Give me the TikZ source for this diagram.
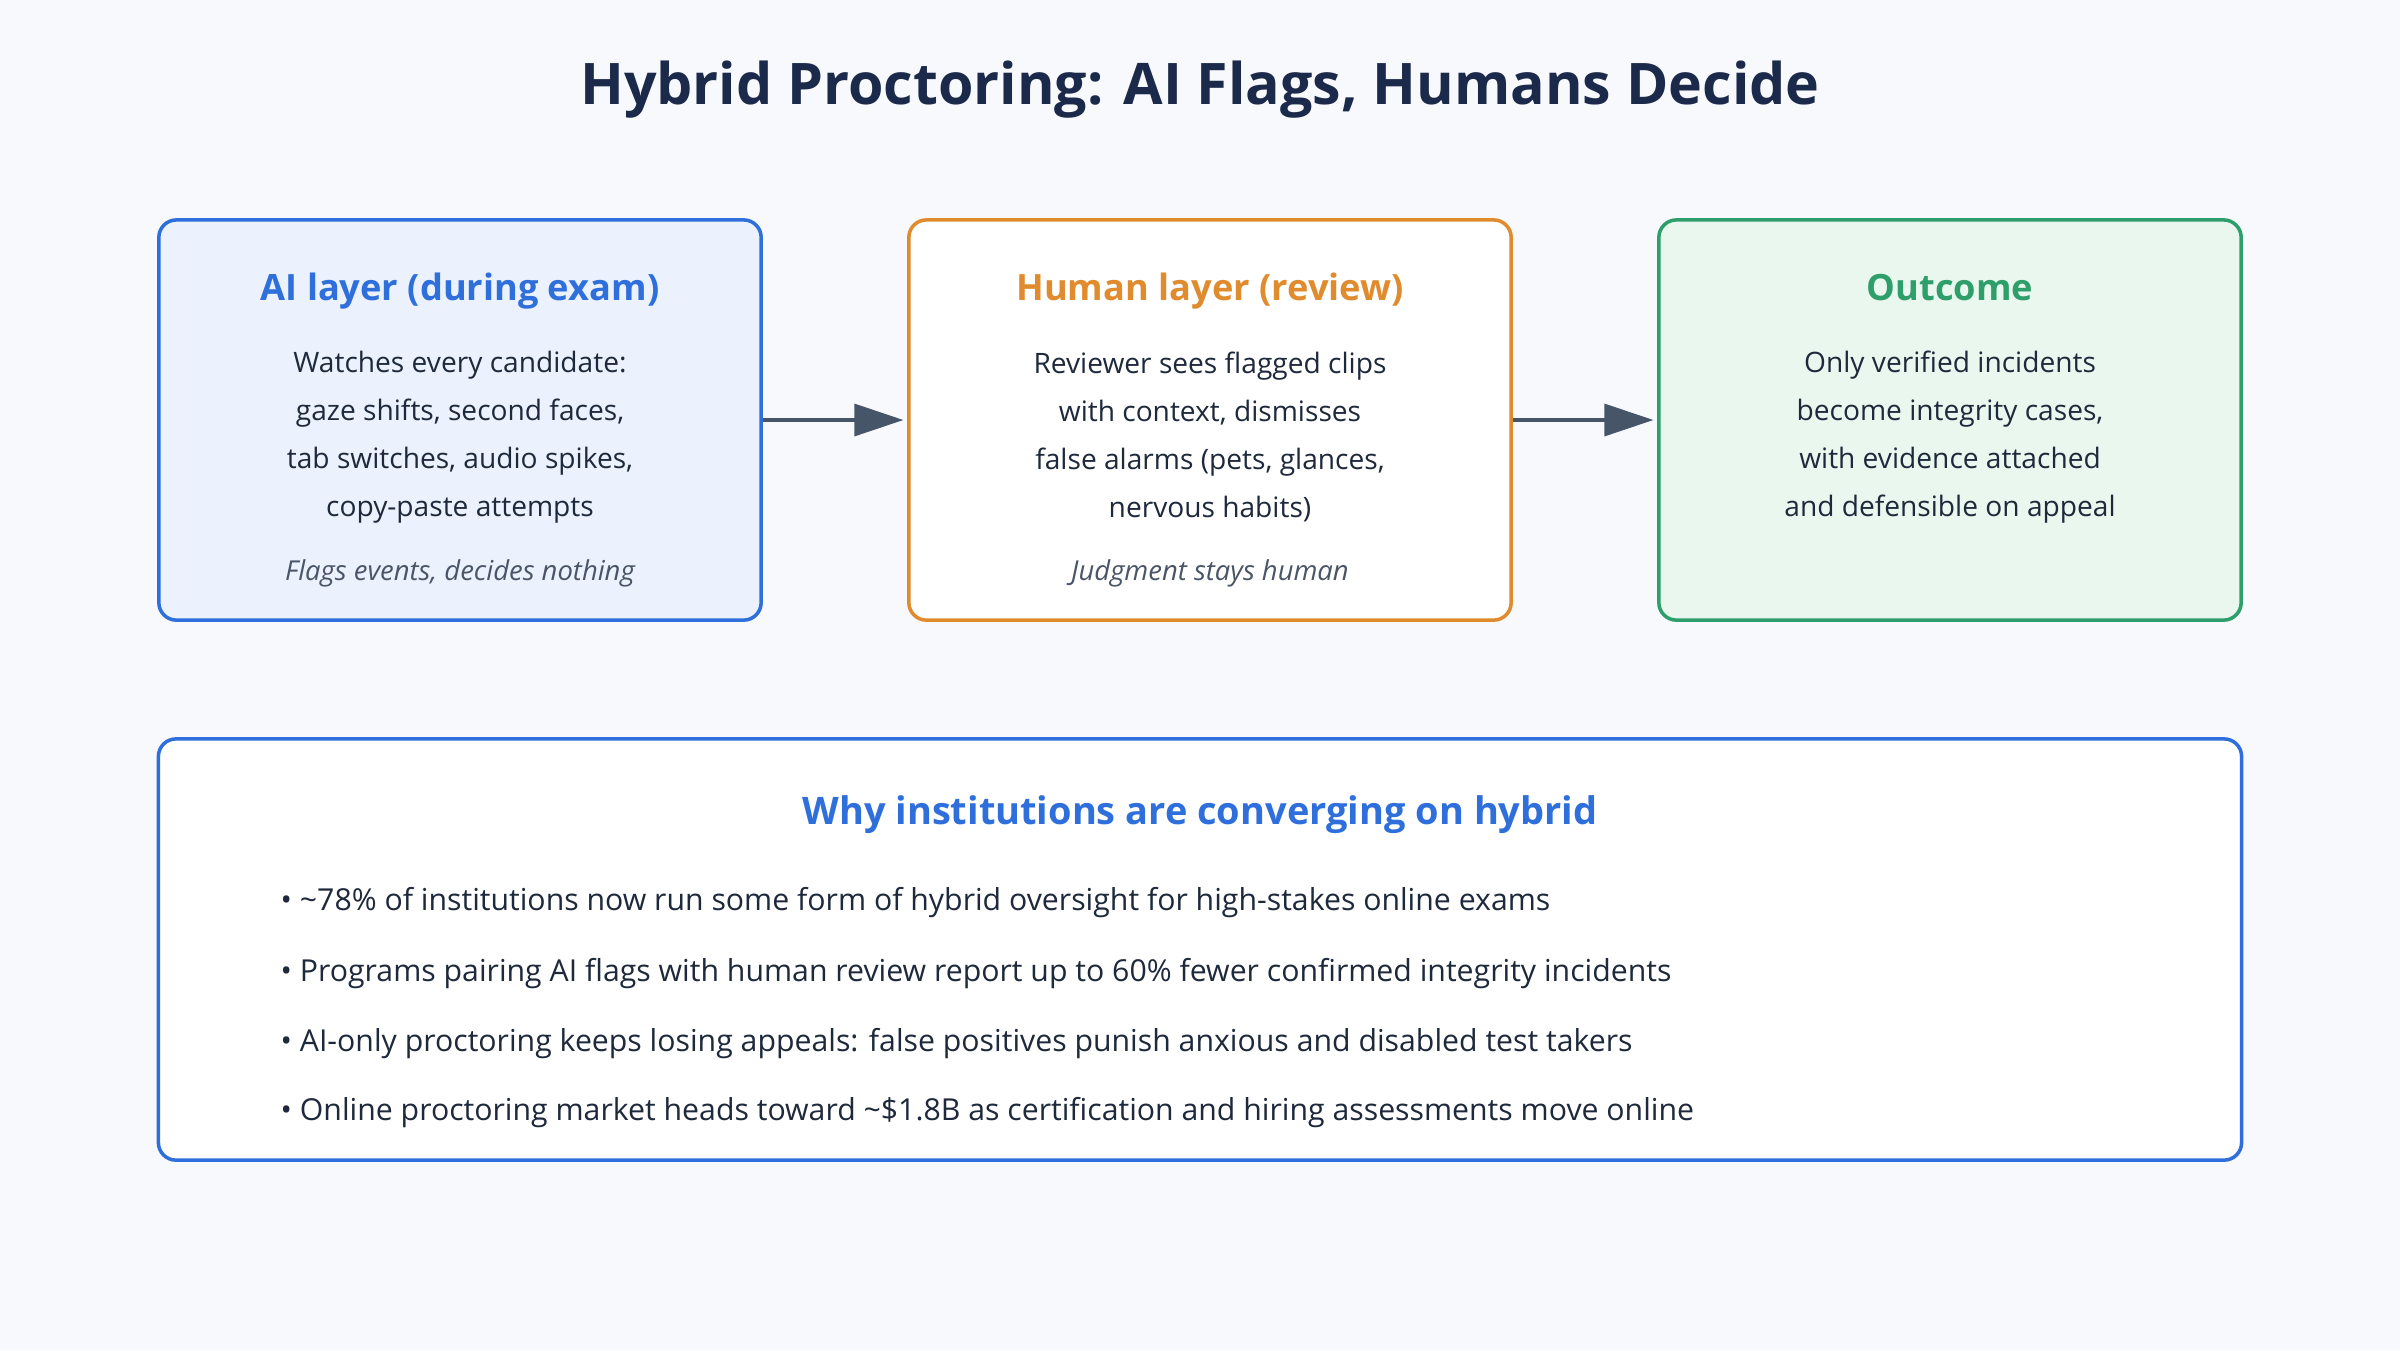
\documentclass[tikz,border=0pt]{standalone}
\usepackage{fontspec}
\setmainfont{Open Sans}
\usetikzlibrary{positioning,calc,arrows.meta}
\definecolor{pagebg}{HTML}{F7F9FC}
\definecolor{titleink}{HTML}{1B2A4A}
\definecolor{bodyink}{HTML}{1E293B}
\definecolor{noteink}{HTML}{4A5568}
\definecolor{aiblue}{HTML}{2F6FDB}
\definecolor{aifill}{HTML}{EBF2FD}
\definecolor{huorange}{HTML}{E08B2E}
\definecolor{outgreen}{HTML}{2E9E6B}
\definecolor{outfill}{HTML}{EAF7EF}
\definecolor{flowink}{HTML}{475569}
\tikzset{flow/.style={line width=1.3pt,draw=flowink,-{Triangle[length=14pt,width=9pt]},shorten >=1pt}}

\begin{document}
\begin{tikzpicture}[x=0.01cm,y=-0.01cm,
 layer/.style={draw=#1,line width=1pt,rounded corners=5pt,minimum height=4cm,inner sep=0pt},
 head/.style={font=\bfseries\fontsize{10.3}{12}\selectfont,text=#1,inner sep=0pt,anchor=base},
 body/.style={font=\fontsize{8}{13.66}\selectfont,text=bodyink,align=center,inner sep=0pt},
 note/.style={font=\itshape\fontsize{7.8}{9}\selectfont,text=noteink,inner sep=0pt},
 point/.style={font=\fontsize{8.6}{10}\selectfont,text=bodyink,anchor=west,inner sep=0pt}]

\fill[pagebg] (0,0) rectangle (2400,1350);

\node[font=\bfseries\fontsize{16.3}{19}\selectfont,text=titleink] (TITLE) at (1200,90) {Hybrid Proctoring: AI Flags, Humans Decide};

% three layers
\node[layer=aiblue,fill=aifill,minimum width=6.02cm] (AI) at (460,420) {};
\node[layer=huorange,fill=white,minimum width=6.02cm] (HU) at (1210,420) {};
\node[layer=outgreen,fill=outfill,minimum width=5.82cm] (OUT) at (1950,420) {};

\node[head=aiblue] (AIH) at ($(AI.north)+(0,82)$) {AI layer (during exam)};
\node[body] (AIB) at ($(AI.north)+(0,219)$) {Watches every candidate:\\ gaze shifts, second faces,\\ tab switches, audio spikes,\\ copy-paste attempts};
\node[note] (AIN) at ($(AI.north)+(0,355)$) {Flags events, decides nothing};

\node[head=huorange] (HUH) at ($(HU.north)+(0,82)$) {Human layer (review)};
\node[body] (HUB) at ($(HU.north)+(0,219)$) {Reviewer sees flagged clips\\ with context, dismisses\\ false alarms (pets, glances,\\ nervous habits)};
\node[note] (HUN) at ($(HU.north)+(0,355)$) {Judgment stays human};

\node[head=outgreen] (OUTH) at ($(OUT.north)+(0,82)$) {Outcome};
\node[body] (OUTB) at ($(OUT.north)+(0,219)$) {Only verified incidents\\ become integrity cases,\\ with evidence attached\\ and defensible on appeal};

\draw[flow] (AI) -- (HU);
\draw[flow] (HU) -- (OUT);

% why hybrid
\node[layer=aiblue,fill=white,minimum width=20.82cm,minimum height=4.21cm] (WHY) at (1200,949.5) {};
\node[head=aiblue,font=\bfseries\fontsize{10.8}{12}\selectfont] (WHYH) at ($(WHY.north)+(0,87)$) {Why institutions are converging on hybrid};
\node[point] (P1) at (280,903) {• \textasciitilde78\% of institutions now run some form of hybrid oversight for high-stakes online exams};
\node[point] (P2) at (280,974) {• Programs pairing AI flags with human review report up to 60\% fewer confirmed integrity incidents};
\node[point] (P3) at (280,1044) {• AI-only proctoring keeps losing appeals: false positives punish anxious and disabled test takers};
\node[point] (P4) at (280,1113) {• Online proctoring market heads toward \textasciitilde\$1.8B as certification and hiring assessments move online};
\end{tikzpicture}
\end{document}
